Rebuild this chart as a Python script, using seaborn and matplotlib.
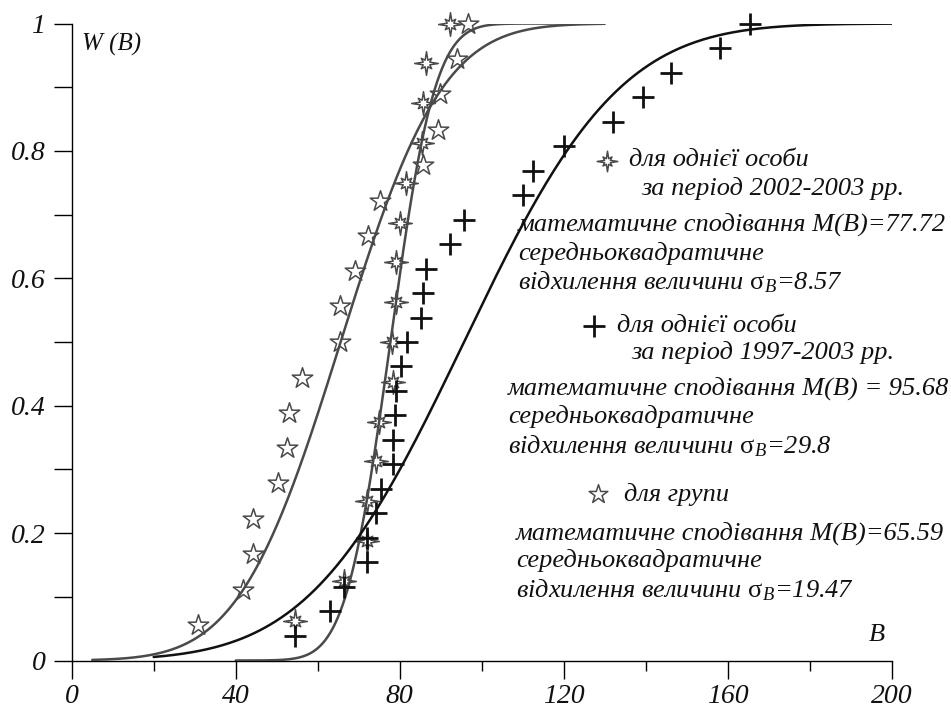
import math
import numpy as np
import pandas as pd
import matplotlib
matplotlib.use("Agg")
import matplotlib.pyplot as plt
import seaborn as sns
from matplotlib.path import Path

# ---- data ----
# "+" : one person, 1997-2003
plus_b = [54.5, 63.0, 66.4, 72.0, 72.0, 74.2, 75.4, 78.3, 78.3, 78.9, 79.1, 80.2, 81.7,
          85.1, 85.6, 86.3, 92.3, 95.8, 110.0, 112.4, 120.1, 132.0, 139.4, 146.1, 158.1, 165.4]
plus_w = [0.038, 0.077, 0.115, 0.154, 0.192, 0.231, 0.269, 0.308, 0.346, 0.385, 0.423, 0.462, 0.500,
          0.538, 0.577, 0.615, 0.654, 0.692, 0.731, 0.769, 0.808, 0.846, 0.885, 0.923, 0.962, 1.0]
# asterisk-star : one person, 2002-2003
ast_b = [54.5, 66.4, 72.0, 72.0, 74.2, 75.0, 78.3, 78.1, 79.0, 79.1, 80.1, 81.5, 85.4, 85.6, 86.4, 92.3]
ast_w = [0.0625, 0.125, 0.1875, 0.25, 0.3125, 0.375, 0.4375, 0.5, 0.5625, 0.625, 0.6875, 0.75,
         0.8125, 0.875, 0.9375, 1.0]
# star : group
grp_b = [30.7, 41.7, 44.1, 44.1, 50.2, 52.4, 53.1, 56.1, 65.4, 65.4, 69.1, 72.3, 75.2, 85.6,
         89.4, 89.8, 93.9, 96.7]
grp_w = [0.056, 0.111, 0.167, 0.222, 0.278, 0.333, 0.389, 0.444, 0.5, 0.556, 0.611, 0.667,
         0.722, 0.778, 0.833, 0.889, 0.944, 1.0]

# normal-law curves with parameters printed on the chart
fit_mean = [77.72, 95.68, 65.59]
fit_sd = [8.57, 29.8, 19.47]
fit_start = [40, 20, 5]
fit_end = [120, 200, 130]

x_major = [0, 40, 80, 120, 160, 200]
x_minor = [20, 60, 100, 140, 180]
x_labels = ["0", "40", "80", "120", "160", "200"]
y_major = [0, 0.2, 0.4, 0.6, 0.8, 1.0]
y_minor = [0.1, 0.3, 0.5, 0.7, 0.9]
y_labels = ["0", "0.2", "0.4", "0.6", "0.8", "1"]

GRAY = "#4a4a4a"
BLACK = "#111111"

sns.set_theme(style="white")
plt.rcParams["font.family"] = ["Liberation Serif", "DejaVu Serif"]
plt.rcParams["mathtext.fontset"] = "custom"
plt.rcParams["mathtext.rm"] = "Liberation Serif"
plt.rcParams["mathtext.it"] = "Liberation Serif:italic"

W, H = 951, 714
fig = plt.figure(figsize=(W / 100, H / 100), dpi=100)
ax = fig.add_axes([71.7 / W, (H - 660.5) / H, 820 / W, 637 / H])

# custom asterisk-like star marker (long vertical/horizontal rays, short diagonal ones)
verts = []
n = 8
for k in range(2 * n):
    ang = math.pi / 2 + k * math.pi / n
    if k % 2 == 0:
        r = 1.0 if (k // 2) % 2 == 0 else 0.62
    else:
        r = 0.3
    verts.append((r * math.cos(ang), r * math.sin(ang)))
verts.append(verts[0])
codes = [Path.MOVETO] + [Path.LINETO] * (len(verts) - 2) + [Path.CLOSEPOLY]
ast_marker = Path(verts, codes)

# curves
colors = [GRAY, BLACK, GRAY]
for m, sd, a, b, c in zip(fit_mean, fit_sd, fit_start, fit_end, colors):
    xs = np.linspace(a, b, 400)
    ys = [0.5 * (1 + math.erf((x - m) / (sd * math.sqrt(2)))) for x in xs]
    df = pd.DataFrame({"B": xs, "W": ys})
    sns.lineplot(data=df, x="B", y="W", color=c, lw=1.8, ax=ax, sort=False,
                 estimator=None, zorder=3)

# points
sns.scatterplot(x=grp_b, y=grp_w, marker="*", s=240, color="white", edgecolor=GRAY,
                linewidth=1.1, ax=ax, clip_on=False, zorder=2)
sns.scatterplot(x=ast_b, y=ast_w, marker=ast_marker, s=290, color="white", edgecolor=GRAY,
                linewidth=1.1, ax=ax, clip_on=False, zorder=2)
sns.scatterplot(x=plus_b, y=plus_w, marker="+", s=270, color=BLACK, linewidth=2.0,
                ax=ax, clip_on=False, zorder=4)

ax.set_xlim(0, 200)
ax.set_ylim(0, 1)
ax.set_xlabel("")
ax.set_ylabel("")
for s in ["top", "right"]:
    ax.spines[s].set_visible(False)
for s in ["left", "bottom"]:
    ax.spines[s].set_color("black")
    ax.spines[s].set_linewidth(1.0)

ax.set_xticks(x_major)
ax.set_xticklabels(x_labels)
ax.set_xticks(x_minor, minor=True)
ax.set_yticks(y_major)
ax.set_yticklabels(y_labels)
ax.set_yticks(y_minor, minor=True)
ax.tick_params(axis="x", which="major", direction="out", length=13, width=1, color="black",
               pad=4, labelsize=20)
ax.tick_params(axis="x", which="minor", direction="out", length=7, width=1, color="black")
ax.tick_params(axis="y", which="both", direction="out", length=13, width=1, color="black",
               pad=6, labelsize=20)
ax.tick_params(bottom=True, left=True, which="both")
for lab in ax.get_xticklabels() + ax.get_yticklabels():
    lab.set_fontstyle("italic")
    lab.set_color("#111111")

def ftext(x, y, s, size=19, ha="left"):
    fig.text(x / W, 1 - y / H, s, fontsize=size, fontstyle="italic", ha=ha, va="center",
             color="#111111")

ftext(82, 44, "W (B)", size=18)
ftext(877, 635, "B", size=19, ha="center")

sig = r"$\mathrm{\sigma}_{\mathit{B}}$"
# block 1
ax.scatter([607 / W], [1 - 161 / H], transform=fig.transFigure, marker=ast_marker, s=220,
           color="white", edgecolor=GRAY, linewidth=1.1, clip_on=False)
ftext(629, 160, "для однієї особи")
ftext(641, 188, "за період 2002-2003 рр.")
ftext(518, 224, "математичне сподівання M(B)=77.72")
ftext(518, 253, "середньоквадратичне")
ftext(518, 282, "відхилення величини " + sig + "=8.57")
# block 2
ax.scatter([594 / W], [1 - 326 / H], transform=fig.transFigure, marker="+", s=240,
           color=BLACK, linewidth=2.0, clip_on=False)
ftext(617, 326, "для однієї особи")
ftext(631, 352, "за період 1997-2003 рр.")
ftext(508, 388, "математичне сподівання M(B) = 95.68")
ftext(508, 416, "середньоквадратичне")
ftext(508, 446, "відхилення величини " + sig + "=29.8")
# block 3
ax.scatter([598 / W], [1 - 494 / H], transform=fig.transFigure, marker="*", s=200,
           color="white", edgecolor=GRAY, linewidth=1.1, clip_on=False)
ftext(624, 494, "для групи")
ftext(516, 533, "математичне сподівання M(B)=65.59")
ftext(516, 561, "середньоквадратичне")
ftext(516, 590, "відхилення величини " + sig + "=19.47")

fig.savefig("out.png", dpi=100, facecolor="white")
